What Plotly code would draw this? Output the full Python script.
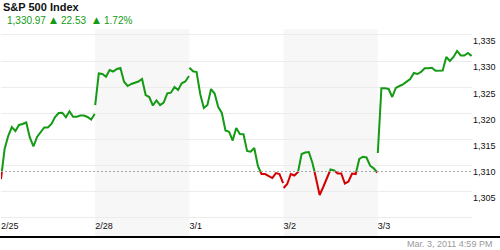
import plotly.graph_objects as go

# ---------------- data ----------------
day_labels = ["2/25", "2/28", "3/1", "3/2", "3/3"]
shaded_days = [1, 3]
minutes = list(range(0, 391, 15))  # 9:30 .. 16:00, 15-min steps

day_2_25 = [1307.36, 1313.12, 1315.61, 1317.34, 1316.57, 1317.73, 1317.92, 1318.21, 1315.33,
            1313.60, 1315.42, 1316.38, 1317.25, 1317.25, 1317.92, 1319.26, 1320.03, 1320.09,
            1319.20, 1320.35, 1319.32, 1319.32, 1319.55, 1319.55, 1319.26, 1318.78, 1319.84]
day_2_28 = [1321.56, 1327.61, 1327.51, 1327.00, 1328.28, 1327.99, 1328.47, 1328.67, 1326.04,
            1325.21, 1325.60, 1325.88, 1326.07, 1326.55, 1323.48, 1323.10, 1321.47, 1322.43,
            1321.56, 1322.04, 1323.81, 1323.93, 1325.02, 1324.44, 1325.73, 1326.07, 1327.13]
day_3_01 = [1328.72, 1328.03, 1327.90, 1323.68, 1320.99, 1321.56, 1324.63, 1323.77, 1321.18,
            1320.03, 1316.67, 1316.44, 1314.75, 1317.15, 1316.00, 1315.94, 1312.74, 1312.60,
            1313.31, 1309.86, 1308.32, 1308.32, 1307.99, 1307.55, 1308.50, 1308.32, 1306.59]
day_3_02 = [1305.63, 1306.40, 1308.32, 1308.03, 1308.70, 1312.16, 1312.45, 1312.54, 1310.43,
            1307.55, 1304.29, 1305.83, 1307.36, 1309.18, 1308.99, 1308.42, 1308.42, 1306.50,
            1306.88, 1308.42, 1308.32, 1311.20, 1311.64, 1311.49, 1309.91, 1309.41, 1308.61]
day_3_03 = [1312.35, 1324.77, 1324.77, 1324.64, 1323.10, 1324.83, 1325.21, 1325.54, 1326.04,
            1326.55, 1327.71, 1327.51, 1327.90, 1328.61, 1328.61, 1328.72, 1328.15, 1328.15,
            1328.19, 1330.78, 1330.01, 1330.78, 1331.93, 1331.07, 1331.07, 1331.55, 1330.97]
days_values = [day_2_25, day_2_28, day_3_01, day_3_02, day_3_03]

reference_line = 1308.8
y_tick_values = [1300, 1305, 1310, 1315, 1320, 1325, 1330, 1335]
y_tick_labels = ["", "1,305", "1,310", "1,315", "1,320", "1,325", "1,330", "1,335"]

index_name = "S&P 500 Index"
last_value = 1330.97
net_change = 22.53
pct_change = 1.72
timestamp = "Mar. 3, 2011 4:59 PM"

# ---------------- styling ----------------
GREEN = "#149a14"
RED = "#d40000"
FONT = "Liberation Sans, Arial, sans-serif"
DAY_SPAN = 392.0

W, H = 500, 250
ML, MR, MT, MB = 1, 28, 29, 13
PW = W - ML - MR
PH = H - MT - MB


def px_x(p):
    return (p - ML) / PW


def px_y(p):
    return (H - MB - p) / PH


def colored_runs(xs, ys, base):
    runs = []
    cur_col = ys[0] >= base
    cur = [(xs[0], ys[0])]
    for i in range(1, len(xs)):
        x0, y0, x1, y1 = xs[i - 1], ys[i - 1], xs[i], ys[i]
        col1 = y1 >= base
        if col1 != cur_col:
            xc = x0 + (base - y0) / (y1 - y0) * (x1 - x0)
            cur.append((xc, base))
            runs.append((cur_col, cur))
            cur = [(xc, base)]
            cur_col = col1
        cur.append((x1, y1))
    runs.append((cur_col, cur))
    return runs


gx, gy, rx, ry = [], [], [], []
for d, vals in enumerate(days_values):
    xs = [d + m / DAY_SPAN for m in minutes]
    for is_green, pts in colored_runs(xs, vals, reference_line):
        tx, ty = (gx, gy) if is_green else (rx, ry)
        tx.extend([p[0] for p in pts] + [None])
        ty.extend([p[1] for p in pts] + [None])

fig = go.Figure()
fig.add_trace(go.Scatter(x=rx, y=ry, mode="lines", line=dict(color=RED, width=2),
                         hoverinfo="skip", connectgaps=False))
fig.add_trace(go.Scatter(x=gx, y=gy, mode="lines", line=dict(color=GREEN, width=2),
                         hoverinfo="skip", connectgaps=False))

shapes = []
for d in shaded_days:
    shapes.append(dict(type="rect", xref="x", yref="paper", x0=d, x1=d + 1, y0=0, y1=1,
                       fillcolor="#f7f7f7", line=dict(width=0), layer="below"))
shapes.append(dict(type="line", xref="paper", yref="y", x0=0, x1=1,
                   y0=reference_line, y1=reference_line,
                   line=dict(color="#a8a8a8", width=1, dash="2px,2px")))
shapes.append(dict(type="line", xref="paper", yref="paper", x0=px_x(0), x1=px_x(W),
                   y0=0, y1=0, line=dict(color="#000000", width=2)))

annotations = [
    dict(text="<b>%s</b>" % index_name, xref="paper", yref="paper", x=px_x(1), y=px_y(7),
         xanchor="left", yanchor="middle", showarrow=False,
         font=dict(family=FONT, size=11, color="#111111")),
    dict(text="{:,.2f}".format(last_value), xref="paper", yref="paper", x=px_x(5), y=px_y(21),
         xanchor="left", yanchor="middle", showarrow=False,
         font=dict(family=FONT, size=10, color=GREEN)),
    dict(text="▲", xref="paper", yref="paper", x=px_x(48), y=px_y(19.5),
         xanchor="left", yanchor="middle", showarrow=False,
         font=dict(family="DejaVu Sans", size=9, color=GREEN)),
    dict(text="{:.2f}".format(net_change), xref="paper", yref="paper", x=px_x(59), y=px_y(21),
         xanchor="left", yanchor="middle", showarrow=False,
         font=dict(family=FONT, size=10, color=GREEN)),
    dict(text="▲", xref="paper", yref="paper", x=px_x(91), y=px_y(19.5),
         xanchor="left", yanchor="middle", showarrow=False,
         font=dict(family="DejaVu Sans", size=9, color=GREEN)),
    dict(text="{:.2f}%".format(pct_change), xref="paper", yref="paper", x=px_x(102), y=px_y(21),
         xanchor="left", yanchor="middle", showarrow=False,
         font=dict(family=FONT, size=10, color=GREEN)),
    dict(text=timestamp, xref="paper", yref="paper", x=px_x(494), y=px_y(244),
         xanchor="right", yanchor="middle", showarrow=False,
         font=dict(family=FONT, size=9, color="#9a9a9a")),
]

fig.update_layout(
    width=W, height=H,
    margin=dict(l=ML, r=MR, t=MT, b=MB, pad=0),
    paper_bgcolor="white", plot_bgcolor="white",
    showlegend=False,
    shapes=shapes,
    annotations=annotations,
    xaxis=dict(range=[0, 5], tickmode="array", tickvals=list(range(len(day_labels))),
               ticktext=day_labels, ticklabelposition="inside right", ticks="",
               showgrid=False, zeroline=False, showline=False,
               tickfont=dict(family=FONT, size=9, color="#111111"), fixedrange=True),
    yaxis=dict(range=[1296.23, 1336.15], side="right", tickmode="array",
               tickvals=y_tick_values, ticktext=y_tick_labels,
               ticklabelposition="outside bottom", ticks="", showgrid=True,
               gridcolor="#ececec", gridwidth=1, zeroline=False, showline=False,
               tickfont=dict(family=FONT, size=9, color="#111111"), fixedrange=True),
)

fig.write_html("out.html")
